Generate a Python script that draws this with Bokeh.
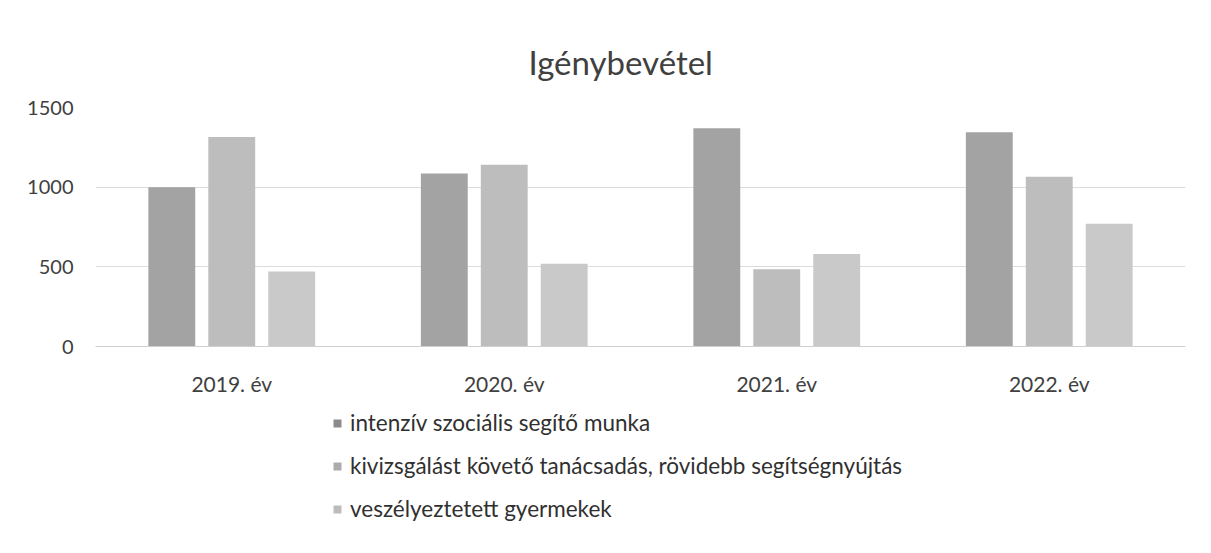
from bokeh.plotting import figure
from bokeh.models import ColumnDataSource, FactorRange, Range1d, Legend, LegendItem
from bokeh.transform import dodge
from bokeh.layouts import column
from bokeh.embed import file_html
from bokeh.resources import INLINE

years = ["2019. év", "2020. év", "2021. év", "2022. év"]
series_names = [
    "intenzív szociális segítő munka",
    "kivizsgálást követő tanácsadás, rövidebb segítségnyújtás",
    "veszélyeztetett gyermekek",
]
intenziv = [1000, 1085, 1370, 1345]
kivizsgalast = [1315, 1140, 485, 1065]
veszelyeztetett = [470, 520, 580, 770]
y_ticks = [0, 500, 1000, 1500]

colors = ["#a3a3a3", "#bdbdbd", "#c9c9c9"]
legend_colors = ["#8a8a8a", "#ababab", "#bcbcbc"]

src = ColumnDataSource(dict(year=years, a=intenziv, b=kivizsgalast, c=veszelyeztetett))

FONT = "Lato"

p = figure(width=1195, height=400, x_range=FactorRange(*years), y_range=Range1d(0, 1500),
           output_backend="svg", toolbar_location=None,
           min_border_left=95, min_border_right=10, min_border_top=107, min_border_bottom=54)
p.outline_line_color = None
p.background_fill_color = "white"
p.border_fill_color = "white"

p.title.text = "Igénybevétel"
p.title.align = "left"
p.title.offset = 433
p.title.text_font = FONT
p.title.text_font_size = "33px"
p.title.text_font_style = "normal"
p.title.text_color = "#404040"
p.title.standoff = 52

for key, off, col in zip(["a", "b", "c"], [-0.22, 0.0, 0.22], colors):
    p.vbar(x=dodge("year", off, range=p.x_range), top=key, width=0.172, source=src,
           fill_color=col, line_color=None)

p.yaxis.ticker = y_ticks
p.yaxis.axis_line_color = None
p.yaxis.major_tick_line_color = None
p.yaxis.minor_tick_line_color = None
p.yaxis.major_label_text_font = FONT
p.yaxis.major_label_text_font_size = "20px"
p.yaxis.major_label_text_color = "#404040"
p.yaxis.major_label_standoff = 16

p.xaxis.axis_line_color = "#d0d0d0"
p.xaxis.major_tick_line_color = None
p.xaxis.minor_tick_line_color = None
p.xaxis.major_label_text_font = FONT
p.xaxis.major_label_text_font_size = "21px"
p.xaxis.major_label_text_color = "#404040"
p.xaxis.major_label_standoff = 18

p.xgrid.grid_line_color = None
p.ygrid.grid_line_color = "#dcdcdc"

# legend figure
q = figure(width=1195, height=137, x_range=Range1d(0, 1), y_range=Range1d(0, 1),
           output_backend="svg", toolbar_location=None,
           x_axis_type=None, y_axis_type=None,
           min_border_left=0, min_border_right=0, min_border_top=0, min_border_bottom=0)
q.outline_line_color = None
q.xgrid.grid_line_color = None
q.ygrid.grid_line_color = None
q.border_fill_color = "white"

items = []
for name, col in zip(series_names, legend_colors):
    r = q.vbar(x=[-10], top=[-10], width=0.1, fill_color=col, line_color=None)
    items.append(LegendItem(label=name, renderers=[r]))

legend = Legend(items=items, location=(237, 15), orientation="vertical",
                padding=0, margin=0, spacing=16, label_height=24, glyph_height=10, glyph_width=10,
                label_standoff=8, border_line_color=None, background_fill_alpha=0,
                label_text_font=FONT, label_text_font_size="22.5px", label_text_color="#303030")
q.add_layout(legend, "center")

open("out.html", "w").write(file_html(column(p, q, spacing=0), INLINE))
